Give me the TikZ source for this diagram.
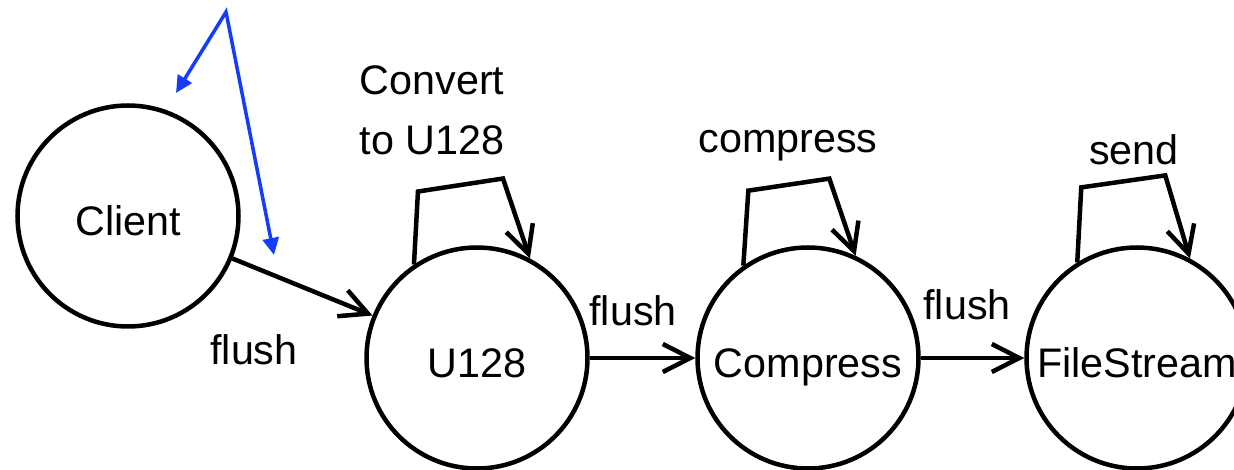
\documentclass[tikz,border=0pt]{standalone}
\usepackage{fontspec}
\setmainfont{Liberation Sans}
\usepackage{tikz}
\usetikzlibrary{arrows.meta,positioning}
\definecolor{ptrblue}{RGB}{20,60,255}

\begin{document}
\begin{tikzpicture}[
    state/.style={circle, draw, line width=0.09cm, minimum size=4.42cm, inner sep=0pt, text height=22pt, text depth=0pt, font=\fontsize{23.5}{28}\selectfont},
    lbl/.style={font=\fontsize{23.5}{34}\selectfont, align=center, inner sep=0pt},
    flow/.style={line width=0.09cm, -{Straight Barb[length=0.55cm, width=0.56cm, line width=0.09cm]}},
    ptr/.style={ptrblue, line width=0.07cm, {Triangle[length=0.34cm, width=0.32cm]}-{Triangle[length=0.34cm, width=0.32cm]}}]
    \useasboundingbox (0,0) rectangle (24.68,9.38);

    % Etapas
    \node[state] (client) at (2.56,5.06) {Client};
    \node[state] (u128) at (9.54,2.22) {U128};
    \node[state] (compress) at (16.16,2.22) {Compress};
    \node[state] (filestream) at (22.74,2.22) {FileStream};

    % flush entre etapas
    \draw[flow] (client) -- (u128);
    \draw[flow] (u128) -- (compress);
    \draw[flow] (compress) -- (filestream);
    \node[lbl] (f1) at (5.08,2.38) {flush};
    \node[lbl] (f2) at (12.66,3.16) {flush};
    \node[lbl] (f3) at (19.34,3.28) {flush};

    % Bucles de cada etapa
    \draw[flow] (u128.124) -- ++(0.08,1.46) -- ++(1.70,0.26) -- (u128.62);
    \draw[flow] (compress.125) -- ++(0.10,1.50) -- ++(1.62,0.24) -- (compress.65);
    \draw[flow] (filestream.122) -- ++(0.08,1.50) -- ++(1.68,0.24) -- (filestream.62);
    \node[lbl] (l1) at (8.64,7.18) {Convert\\to U128};
    \node[lbl] (l2) at (15.76,6.46) {compress};
    \node[lbl] (l3) at (22.68,6.38) {send};

    % Flechas azules
    \coordinate (pa) at (3.52,7.52);
    \coordinate (pb) at (4.52,9.14);
    \coordinate (pc) at (5.48,4.28);
    \draw[ptr] (pa) -- (pb) -- (pc);
\end{tikzpicture}
\end{document}
